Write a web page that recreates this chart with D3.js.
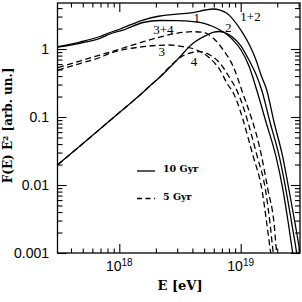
<!DOCTYPE html>
<html><head><meta charset="utf-8">
<script src="https://cdn.jsdelivr.net/npm/d3@7"></script>
<style>body{margin:0;background:#fff}svg{display:block}</style>
</head><body><svg id="c" width="302" height="302"></svg>
<script>
// ---- data (E in units of 10^18 eV, F in arb. units) ----
const E_12 = [0.3126,0.4745,0.6935,0.838,1.013,1.567,2.164,2.988,4.046,5.08,5.913,6.754,7.712,8.642,10.44,11.93,13.37,14.70,16.38,18.81,22.18,25.0,28.02,30.8,31.4];
const F_12 = [1.088,1.267,1.527,1.749,1.969,2.670,3.057,3.27,3.419,3.746,3.875,3.746,3.35,2.734,1.702,1.107,0.689,0.4146,0.2494,0.0844,0.02608,0.00844,0.00276,0.001,0.00079];

const E_1 = [0.3126,0.4745,0.6935,0.838,1.114,1.567,2.164,2.988,4.046,5.08,5.913,6.754,7.712,8.642,10.06,11.70,13.55,16.16,19.54,22.31,24.67,26.81,27.33];
const F_1 = [1.063,1.213,1.437,1.662,1.936,2.454,2.625,2.607,2.52,2.371,2.142,1.903,1.634,1.356,0.967,0.5623,0.2494,0.0844,0.02608,0.00844,0.00276,0.001,0.00079];

const E_2 = [0.3126,0.4745,0.6935,1.013,1.481,1.824,2.164,2.988,4.046,5.278,5.913,6.627,7.712,8.642,10.06,11.70,13.55,14.89,17.43,20.80,23.61,26.31,28.92,29.48];
const F_2 = [0.02002,0.03745,0.0666,0.1184,0.2107,0.2955,0.3875,0.689,1.213,1.606,1.761,1.809,1.690,1.476,1.107,0.689,0.401,0.2494,0.0844,0.02608,0.00844,0.00276,0.001,0.00079];

const E_34 = [0.3126,0.4745,0.6935,1.013,1.576,2.164,2.971,4.07,4.919,5.947,7.188,8.69,10.19,14.89,16.79,18.81,19.80,20.17];
const F_34 = [0.531,0.666,0.816,1.0,1.28,1.501,1.702,1.797,1.761,1.437,0.967,0.549,0.2494,0.02608,0.00844,0.00276,0.001,0.00079];

const E_3 = [0.3126,0.4745,0.6935,0.838,1.567,2.616,3.347,4.341,5.587,6.754,7.861,8.43,12.70,14.98,16.38,17.67,18.0];
const F_3 = [0.491,0.612,0.75,0.8646,1.081,1.145,1.081,0.967,0.7297,0.491,0.2955,0.2494,0.02608,0.00844,0.00276,0.001,0.00079];

const E_4 = [0.3126,0.4745,0.6935,1.013,1.481,1.824,2.164,2.616,3.266,3.823,4.622,5.587,6.754,8.163,9.271,13.70,16.01,17.43,18.56,18.92];
const F_4 = [0.02002,0.03745,0.0666,0.1184,0.2107,0.2955,0.3875,0.553,0.776,0.873,0.913,0.816,0.616,0.371,0.2494,0.02608,0.00844,0.00276,0.001,0.00079];

// curve labels (text, E, F)
const labelText = ["1","2","1+2","3+4","3","4"];
const labelE = [4.34,7.906,12.04,2.31,2.235,4.124];
const labelF = [2.925,2.085,2.985,1.949,0.913,0.650];

// ticks
const xMajor = [1,10];
const xMajorExp = ["18","19"];
const xMinor = [0.4,0.5,0.6,0.7,0.8,0.9,2,3,4,5,6,7,8,9,20,30];
const yMajor = [0.001,0.01,0.1,1];
const yMajorLab = ["0.001","0.01","0.1","1"];
const yMinor = [0.002,0.003,0.004,0.005,0.006,0.007,0.008,0.009,
                0.02,0.03,0.04,0.05,0.06,0.07,0.08,0.09,
                0.2,0.3,0.4,0.5,0.6,0.7,0.8,0.9,2,3,4];
const legendText = ["10 Gyr","5 Gyr"];

// ---- drawing ----
const svg = d3.select("#c");
const P = {l:57.5, r:300, t:3, b:253};
const x = d3.scaleLog().domain([0.3097, 30.8]).range([P.l, P.r]);
const y = d3.scaleLog().domain([0.001, 4.75]).range([P.b, P.t]);

svg.append("defs").append("clipPath").attr("id","clip")
  .append("rect").attr("x",P.l).attr("y",P.t).attr("width",P.r-P.l).attr("height",P.b-P.t);

const line = d3.line().x(d=>x(d[0])).y(d=>y(d[1])).curve(d3.curveMonotoneX);
const series = [
  {E:E_12,F:F_12,dash:null},
  {E:E_1,F:F_1,dash:null},
  {E:E_2,F:F_2,dash:null},
  {E:E_34,F:F_34,dash:"6,3.5"},
  {E:E_3,F:F_3,dash:"6,3.5"},
  {E:E_4,F:F_4,dash:"6,3.5"}
];
const gC = svg.append("g").attr("clip-path","url(#clip)");
series.forEach(s=>{
  gC.append("path").datum(s.E.map((e,i)=>[e,s.F[i]]))
    .attr("d",line).attr("fill","none").attr("stroke","#000")
    .attr("stroke-width",1.3).attr("stroke-dasharray",s.dash);
});

// axes
function addAxis(gen, tr, vals, len){
  const g = svg.append("g").attr("transform",tr)
    .call(gen.tickValues(vals).tickSize(-len).tickFormat(""));
  g.select(".domain").remove();
  g.selectAll(".tick line").attr("stroke","#000").attr("stroke-width",1.1);
  return g;
}
addAxis(d3.axisBottom(x), `translate(0,${P.b})`, xMajor, 9);
addAxis(d3.axisBottom(x), `translate(0,${P.b})`, xMinor, 4.5);
addAxis(d3.axisTop(x), `translate(0,${P.t})`, xMajor, 9);
addAxis(d3.axisTop(x), `translate(0,${P.t})`, xMinor, 4.5);
addAxis(d3.axisLeft(y), `translate(${P.l},0)`, yMajor, 9);
addAxis(d3.axisLeft(y), `translate(${P.l},0)`, yMinor, 5);
addAxis(d3.axisRight(y), `translate(${P.r},0)`, yMajor, 9);
addAxis(d3.axisRight(y), `translate(${P.r},0)`, yMinor, 5);

svg.append("rect").attr("x",P.l).attr("y",P.t).attr("width",P.r-P.l).attr("height",P.b-P.t)
  .attr("fill","none").attr("stroke","#000").attr("stroke-width",1.3);

// tick labels
const sans = "'Liberation Sans', Arial, sans-serif";
yMajor.forEach((v,i)=>{
  svg.append("text").attr("x",P.l-8.5).attr("y",y(v)).attr("dy","0.36em")
    .attr("text-anchor","end").attr("font-family",sans).attr("font-size",14)
    .text(yMajorLab[i]);
});
xMajor.forEach((v,i)=>{
  const t = svg.append("text").attr("x",x(v)).attr("y",271)
    .attr("text-anchor","middle").attr("font-family",sans).attr("font-size",14);
  t.append("tspan").text("10");
  t.append("tspan").attr("dy",-5).attr("font-size",10).text(xMajorExp[i]);
});

// axis titles
const serif = "'DejaVu Serif', serif";
svg.append("text").attr("x",180).attr("y",290).attr("text-anchor","middle")
  .attr("font-family",serif).attr("font-weight","bold").attr("font-size",13).text("E [eV]");
svg.append("text").attr("transform","translate(12,125.5) rotate(-90)").attr("text-anchor","middle")
  .attr("font-family",serif).attr("font-weight","bold").attr("font-size",12).text("F(E) E² [arb. un.]");

// curve labels
labelText.forEach((t,i)=>{
  svg.append("text").attr("x",x(labelE[i])).attr("y",y(labelF[i])).attr("dy","0.35em")
    .attr("text-anchor","middle").attr("font-family","'Liberation Serif', 'Times New Roman', serif")
    .attr("font-size",13).text(t);
});

// legend
const lg = svg.append("g");
[[171,null],[198.5,"5,3.5"]].forEach((d,i)=>{
  lg.append("line").attr("x1",137).attr("x2",155).attr("y1",d[0]).attr("y2",d[0])
    .attr("stroke","#000").attr("stroke-width",1.3).attr("stroke-dasharray",d[1]);
  lg.append("text").attr("x",163).attr("y",d[0]+1).attr("font-family",serif)
    .attr("font-weight","bold").attr("font-size",9.5).text(legendText[i]);
});
</script>
</body></html>
